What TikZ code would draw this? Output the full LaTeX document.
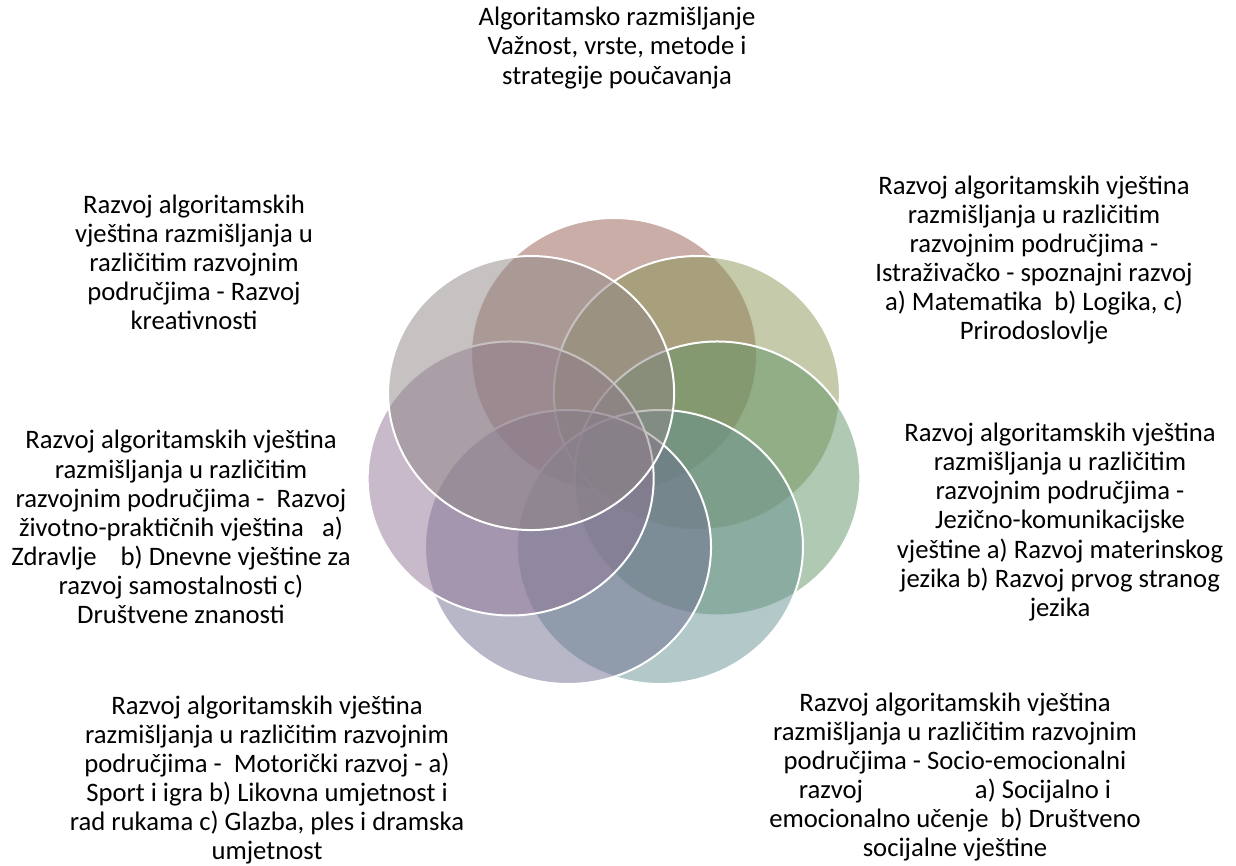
\documentclass[tikz,border=0pt]{standalone}
\usepackage{fontspec}
\setmainfont{Carlito}
\definecolor{cRose}{RGB}{147,91,77}
\definecolor{cOlive}{RGB}{137,149,85}
\definecolor{cGreen}{RGB}{97,147,101}
\definecolor{cTeal}{RGB}{103,145,145}
\definecolor{cSlate}{RGB}{111,111,145}
\definecolor{cMauve}{RGB}{145,117,149}
\definecolor{cGray}{RGB}{143,133,133}
\begin{document}
\begin{tikzpicture}[x=.75pt,y=-.75pt, petal/.style={draw=white,line width=1.5pt,fill opacity=.5},
 lbl/.style={align=center,inner sep=0pt,font=\fontsize{20}{21.8}\selectfont}]
\useasboundingbox (0,0) rectangle (1236,865);
\foreach \a/\c in {90/cRose,38.57/cOlive,-12.86/cGreen,-64.29/cTeal,-115.71/cSlate,-167.14/cMauve,141.43/cGray}
 \draw[petal,fill=\c] ({614+106*cos(\a)},{456-101*sin(\a)}) ellipse [x radius=143,y radius=137];
\node[lbl] (top) at (617,48) {Algoritamsko razmišljanje\\Važnost, vrste, metode i\\strategije poučavanja};
\node[lbl] (kreat) at (194,262) {Razvoj algoritamskih\\vještina razmišljanja u\\različitim razvojnim\\područjima - Razvoj\\kreativnosti};
\node[lbl] (istr) at (1034,260) {Razvoj algoritamskih vještina\\razmišljanja u različitim\\razvojnim područjima -\\Istraživačko - spoznajni razvoj\\a) Matematika\ \ b) Logika, c)\\Prirodoslovlje};
\node[lbl] (zivot) at (181,527) {Razvoj algoritamskih vještina\\razmišljanja u različitim\\razvojnim područjima -\ \ Razvoj\\životno-praktičnih vještina\ \ \ a)\\Zdravlje\ \ \ \ b) Dnevne vještine za\\razvoj samostalnosti c)\\Društvene znanosti};
\node[lbl] (jezik) at (1060,522) {Razvoj algoritamskih vještina\\razmišljanja u različitim\\razvojnim područjima -\\Jezično-komunikacijske\\vještine a) Razvoj materinskog\\jezika b) Razvoj prvog stranog\\jezika};
\node[lbl] (motor) at (267,780) {Razvoj algoritamskih vještina\\razmišljanja u različitim razvojnim\\područjima -\ \ Motorički razvoj - a)\\Sport i igra b) Likovna umjetnost i\\rad rukama c) Glazba, ples i dramska\\umjetnost};
\node[lbl] (socio) at (955,777) {Razvoj algoritamskih vještina\\razmišljanja u različitim razvojnim\\područjima - Socio-emocionalni\\razvoj\hspace{4.2em}a) Socijalno i\\emocionalno učenje\ \ b) Društveno\\socijalne vještine};
\end{tikzpicture}
\end{document}
